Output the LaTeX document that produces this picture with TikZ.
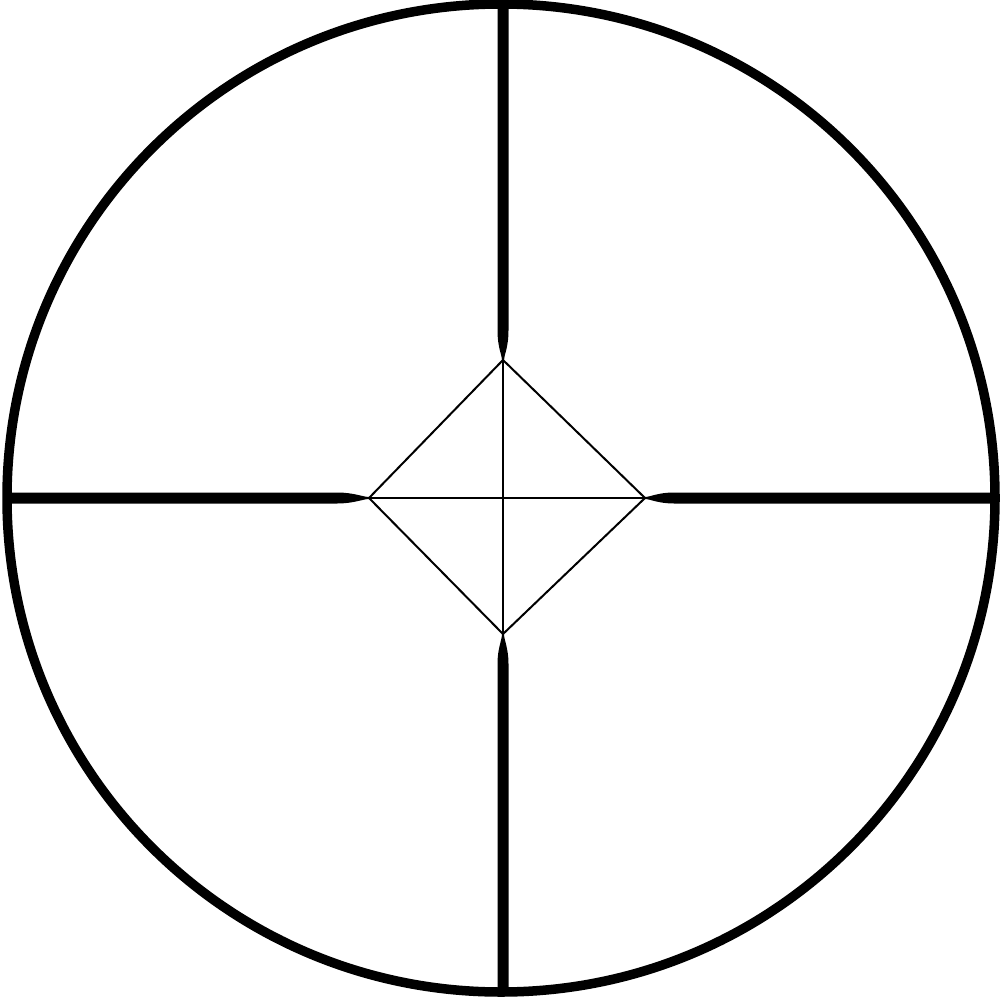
\documentclass[tikz,border=0pt]{standalone}
\begin{document}
\begin{tikzpicture}[x=1pt,y=-1pt,
  ring/.style={draw=black,line width=9.5pt},
  thinline/.style={draw=black,line width=2pt},
  postfill/.style={fill=black}]
\useasboundingbox (0,0) rectangle (1000,1000);
\coordinate (c) at (503,498);
\coordinate (T) at (503,360);
\coordinate (R) at (645,498);
\coordinate (B) at (503,634);
\coordinate (L) at (369,498);
% posts
\path[postfill] (497.5,5) -- (497.5,330) .. controls (497.5,348) and (502,355) .. (502,360)
  -- (504,360) .. controls (504,355) and (508.5,348) .. (508.5,330) -- (508.5,5) -- cycle;
\path[postfill] (497.5,992) -- (497.5,664) .. controls (497.5,648) and (502,640) .. (502,634)
  -- (504,634) .. controls (504,640) and (508.5,648) .. (508.5,664) -- (508.5,992) -- cycle;
\path[postfill] (6,492.5) -- (337,492.5) .. controls (354,492.5) and (363,497) .. (369,497)
  -- (369,499) .. controls (363,499) and (354,503.5) .. (337,503.5) -- (6,503.5) -- cycle;
\path[postfill] (995,492.5) -- (674,492.5) .. controls (658,492.5) and (650,497) .. (645,497)
  -- (645,499) .. controls (650,499) and (658,503.5) .. (674,503.5) -- (995,503.5) -- cycle;
% cross and diamond
\draw[thinline] (T) -- (B);
\draw[thinline] (L) -- (R);
\draw[thinline,line join=miter] (T) -- (R) -- (B) -- (L) -- cycle;
% ring
\draw[ring] (501,498) circle (494);
\end{tikzpicture}
\end{document}
